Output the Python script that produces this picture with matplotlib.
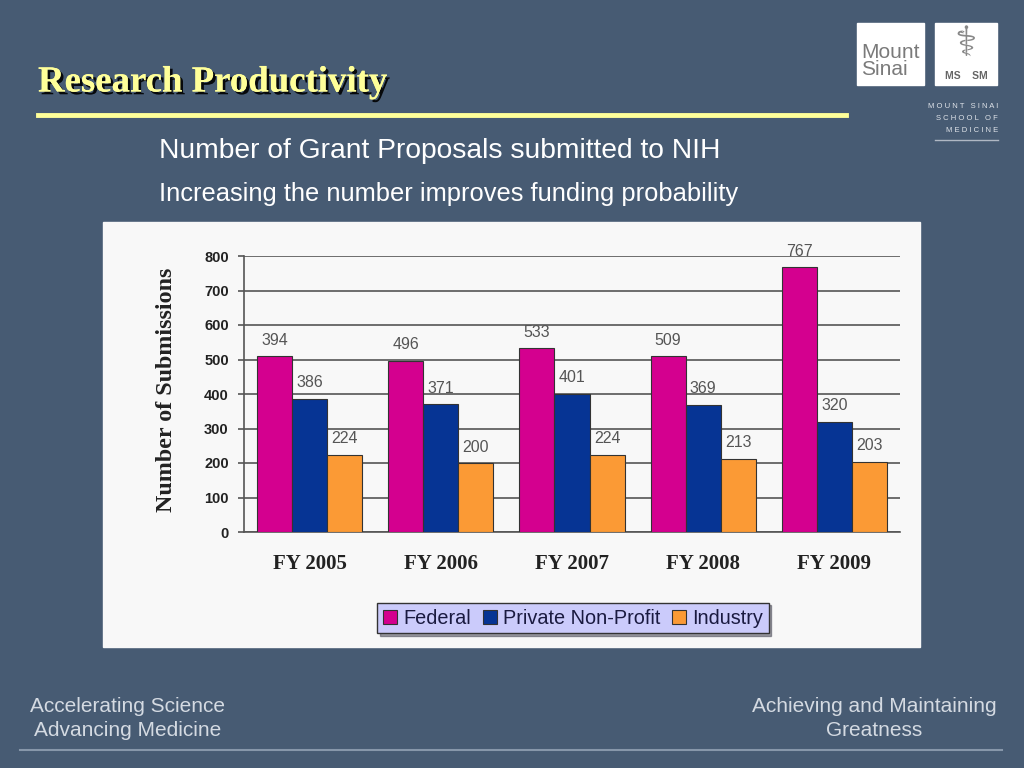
import numpy as np
import matplotlib
matplotlib.use('Agg')
import matplotlib.pyplot as plt
import matplotlib.patheffects as pe
from matplotlib.patches import Rectangle

years = ['FY 2005', 'FY 2006', 'FY 2007', 'FY 2008', 'FY 2009']
series = ['Federal', 'Private Non-Profit', 'Industry']
federal = [510, 496, 533, 509, 767]
federal_labels = [394, 496, 533, 509, 767]
private = [386, 371, 401, 369, 320]
industry = [224, 200, 224, 213, 203]
colors = ['#d4008f', '#063494', '#fb9a35']

bg = '#475b73'
W, H = 1024, 768

fig = plt.figure(figsize=(W / 100, H / 100), dpi=100)
fig.patch.set_facecolor(bg)


def fx(x):
    return x / W


def fy(y):
    return 1 - y / H


# title with shadow
fig.text(fx(38), fy(82), 'Research Productivity', family='Liberation Serif',
         weight='bold', size=26.5, color='#ffff99', va='center', ha='left',
         path_effects=[pe.withSimplePatchShadow(offset=(2, -2), shadow_rgbFace='black', alpha=0.9),
                       pe.Normal()])
fig.add_artist(plt.Line2D([fx(38), fx(846)], [fy(115), fy(115)], color='#ffff99', lw=3.5))

fig.text(fx(159), fy(151), 'Number of Grant Proposals submitted to NIH', family='Liberation Sans',
         size=20.3, color='white', va='center', ha='left')
fig.text(fx(159), fy(194), 'Increasing the number improves funding probability', family='Liberation Sans',
         size=18.4, color='white', va='center', ha='left')

# logos
fig.add_artist(Rectangle((fx(857), fy(85)), fx(67), 62 / H, color='white', zorder=-1))
fig.text(fx(861), fy(61), 'Mount\nSinai', family='Liberation Sans', size=15, color='#7a7a7a',
         va='center', ha='left', linespacing=0.9)
fig.add_artist(Rectangle((fx(935), fy(85)), fx(62), 62 / H, color='white', zorder=-1))
fig.text(fx(966), fy(44), '\u2695', family='DejaVu Sans', size=30, color='#888888', va='center', ha='center')
fig.text(fx(966), fy(76), 'MS    SM', family='Liberation Sans', weight='bold', size=7.5,
         color='#666666', va='center', ha='center')
for i, t in enumerate(['M O U N T   S I N A I', 'S C H O O L   O F', 'M E D I C I N E']):
    fig.text(fx(998), fy(106 + 12 * i), t, family='Liberation Sans', size=5.5, color='#e0e4ea',
             va='center', ha='right')
fig.add_artist(plt.Line2D([fx(935), fx(998)], [fy(140), fy(140)], color='#b0b8c4', lw=1))

# footer
for x, lines in [(128, ['Accelerating Science', 'Advancing Medicine']),
                 (874, ['Achieving and Maintaining', 'Greatness'])]:
    for i, t in enumerate(lines):
        fig.text(fx(x), fy(707 + 23 * i), t, family='Liberation Sans', size=15,
                 color='#d4dae2', va='center', ha='center')
fig.add_artist(plt.Line2D([fx(20), fx(1002)], [fy(750), fy(750)], color='#8797aa', lw=1.5))

# chart panel
fig.add_artist(Rectangle((fx(103), fy(647)), fx(817), 425 / H, color='#f8f8f8', zorder=-1))

ax = fig.add_axes([fx(244), fy(532), fx(900 - 244), (532 - 256) / H])
ax.set_facecolor('#f8f8f8')
x = np.arange(len(years))
w = 0.267
values = [federal, private, industry]
labels = [federal_labels, private, industry]
for k in range(3):
    pos = x + (k - 1) * w
    ax.bar(pos, values[k], w, color=colors[k], edgecolor='#333333', lw=0.8,
           label=series[k], zorder=3)
    for p, v, lab in zip(pos, values[k], labels[k]):
        ax.text(p, v + 16 * 800 / 276, str(lab), ha='center', va='center',
                family='Liberation Sans', size=11.5, color='#555555', clip_on=False)

ax.set_ylim(0, 800)
ax.set_xlim(-0.5, 4.5)
ax.set_yticks(range(0, 801, 100))
ax.yaxis.grid(True, color='#555555', lw=1.2, zorder=0)
ax.tick_params(axis='y', length=4, color='#555555', width=1.2, pad=7)
for t in ax.get_yticklabels():
    t.set_family('Liberation Sans')
    t.set_weight('bold')
    t.set_size(10.5)
    t.set_color('#222222')
ax.set_xticks(x)
ax.set_xticklabels(years, family='Liberation Serif', weight='bold', size=15, color='#222222')
ax.tick_params(axis='x', length=0, pad=16)
for s in ['top', 'right']:
    ax.spines[s].set_visible(False)
ax.spines['left'].set_color('#555555')
ax.spines['bottom'].set_color('#555555')
ax.spines['left'].set_linewidth(1.2)
ax.spines['bottom'].set_linewidth(1.2)

fig.text(fx(166), fy(390), 'Number of Submissions', family='Liberation Serif', weight='bold',
         size=17.3, color='#222222', rotation=90, va='center', ha='center')

leg = ax.legend(loc='center', bbox_to_anchor=((573 - 244) / 656, (532 - 618) / 276), ncol=3,
                frameon=True, fancybox=False, shadow=True, borderpad=0.3, handlelength=0.7,
                handleheight=0.7, handletextpad=0.3, columnspacing=0.6,
                prop={'family': 'Liberation Sans', 'size': 14.3})
leg.get_frame().set_facecolor('#cbcbfb')
leg.get_frame().set_edgecolor('#333333')
leg.get_frame().set_alpha(1)
for t in leg.get_texts():
    t.set_color('#1a1a40')

fig.savefig('out.png', dpi=100, facecolor=fig.get_facecolor())
